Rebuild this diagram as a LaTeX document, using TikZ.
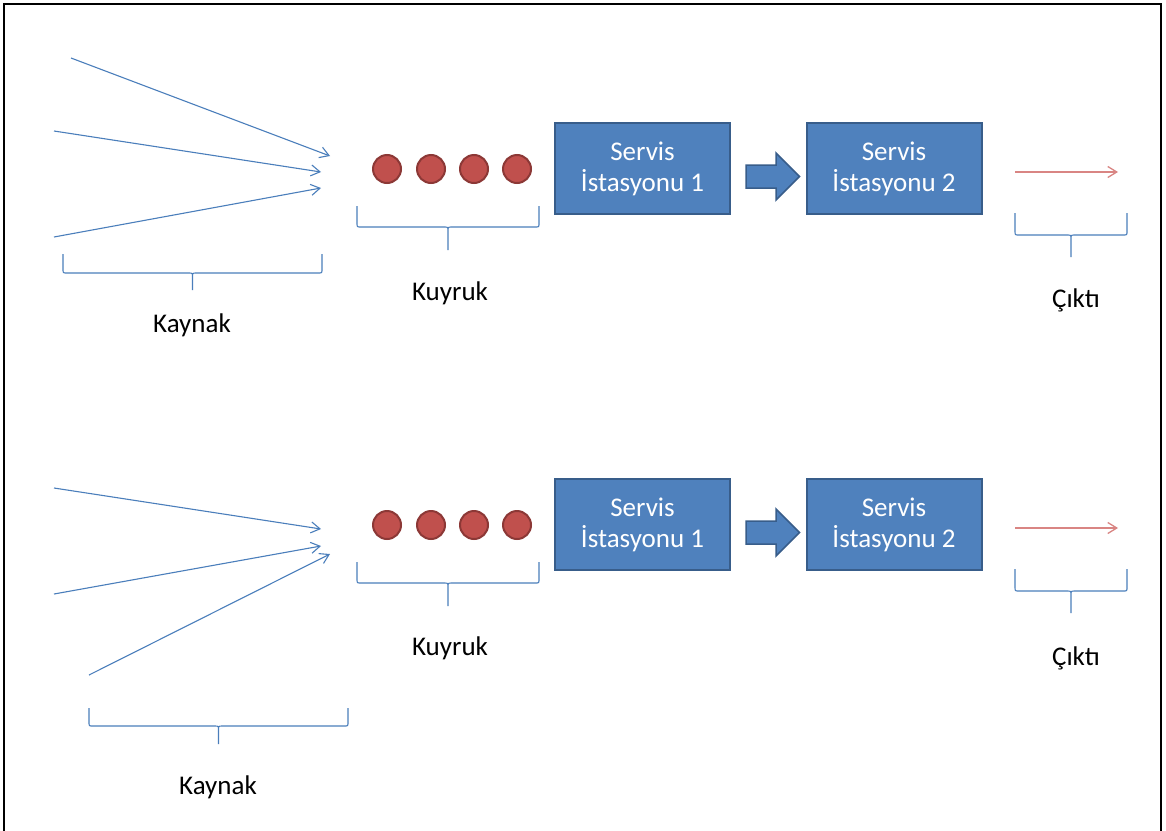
\documentclass[tikz,border=0pt]{standalone}
\usepackage{fontspec}
\setmainfont{Carlito}
\usetikzlibrary{arrows.meta,calc}
\definecolor{boxblue}{HTML}{4F81BD}
\definecolor{boxedge}{HTML}{385D8A}
\definecolor{dotred}{HTML}{C0504D}
\definecolor{dotedge}{HTML}{8C3836}
\definecolor{linkblue}{HTML}{4A7EBB}
\definecolor{outred}{HTML}{D98583}
\tikzset{
  station/.style={rectangle, fill=boxblue, draw=boxedge, line width=2pt,
    minimum width=175pt, minimum height=91pt, text=white, align=center,
    font=\fontsize{27}{31}\selectfont},
  qdot/.style={circle, fill=dotred, draw=dotedge, line width=2pt, minimum size=28pt, inner sep=0pt},
  srcarrow/.style={draw=linkblue, line width=1.1pt, -{Straight Barb[length=9pt,width=11pt]}},
  outarrow/.style={draw=outred, line width=1.3pt, -{Straight Barb[length=9pt,width=11pt]}},
  bracestyle/.style={draw=linkblue, line width=1.1pt},
  blockarrow/.style={fill=boxblue, draw=boxedge, line width=1.5pt, line join=miter},
  lbl/.style={font=\fontsize{27}{31}\selectfont, text=black, inner sep=0pt},
  frame/.style={draw=black, line width=2pt}
}
\newcommand\qbrace[5]{%
  \pgfmathsetmacro\qbm{(#1+#2)/2}%
  \draw[bracestyle] (#1,#3) -- (#1,#4-4) .. controls (#1,#4) .. (#1+4,#4) -- (\qbm-4,#4) .. controls (\qbm,#4) .. (\qbm,#4+4) -- (\qbm,#5)
    (\qbm,#4+4) .. controls (\qbm,#4) .. (\qbm+4,#4) -- (#2-4,#4) .. controls (#2,#4) .. (#2,#4-4) -- (#2,#3);}
\begin{document}
\begin{tikzpicture}[x=1pt,y=-1pt]
\useasboundingbox (0,0) rectangle (1166,830);
\fill[white] (0,0) rectangle (1166,830);
\draw[frame] (4,832) -- (4,4) -- (1161,4) -- (1161,832);

% top row sources
\coordinate (sa1) at (71,58);   \coordinate (ta1) at (330,156);
\coordinate (sa2) at (54,131);  \coordinate (ta2) at (321,172);
\coordinate (sa3) at (54,237);  \coordinate (ta3) at (321,188);
\draw[srcarrow] (sa1) -- (ta1);
\draw[srcarrow] (sa2) -- (ta2);
\draw[srcarrow] (sa3) -- (ta3);
\qbrace{63}{322}{254}{273}{290}
\node[lbl] (kaynaka) at (192,325) {Kaynak};

% bottom row sources
\coordinate (sb1) at (54,488);  \coordinate (tb1) at (321,529);
\coordinate (sb2) at (54,594);  \coordinate (tb2) at (321,546);
\coordinate (sb3) at (89,675);  \coordinate (tb3) at (330,554);
\draw[srcarrow] (sb1) -- (tb1);
\draw[srcarrow] (sb2) -- (tb2);
\draw[srcarrow] (sb3) -- (tb3);
\qbrace{89}{348}{708}{726}{744}
\node[lbl] (kaynakb) at (218,787) {Kaynak};

\foreach \r/\dy in {a/0,b/356}{
  \foreach \i/\x in {1/387,2/431,3/474,4/517}
    \node[qdot] (d\r\i) at (\x,{169+\dy}) {};
  \node[station] (s1\r) at (642.5,{168.5+\dy}) {Servis\\İstasyonu 1};
  \node[station] (s2\r) at (894,{168.5+\dy}) {Servis\\İstasyonu 2};
  \draw[blockarrow] ($(s1\r.east)+(15,-3.5)$) -- ($(s1\r.east)+(45,-3.5)$)
    -- ($(s1\r.east)+(45,-15.5)$) -- ($(s2\r.west)+(-6,8)$)
    -- ($(s1\r.east)+(45,31.5)$) -- ($(s1\r.east)+(45,19.5)$)
    -- ($(s1\r.east)+(15,19.5)$) -- cycle;
  \coordinate (os\r) at (1015,{172+\dy});
  \coordinate (oe\r) at (1118,{172+\dy});
  \draw[outarrow] (os\r) -- (oe\r);
  \qbrace{357}{539}{206+\dy}{227+\dy}{250+\dy}
  \qbrace{1015}{1127}{213+\dy}{235+\dy}{257+\dy}
}
\node[lbl] (kuyruka) at (450,293) {Kuyruk};
\node[lbl] (kuyrukb) at (450,648) {Kuyruk};
\node[lbl] (ciktia) at (1076,300) {Çıktı};
\node[lbl] (ciktib) at (1076,658) {Çıktı};
\end{tikzpicture}
\end{document}
